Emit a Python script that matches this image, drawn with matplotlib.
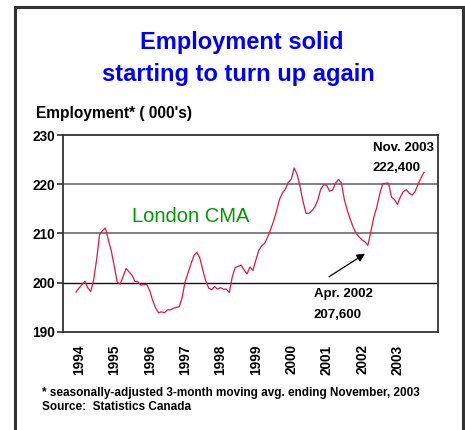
import matplotlib
matplotlib.use('Agg')
import matplotlib.pyplot as plt
from matplotlib.patches import Rectangle

plt.rcParams['font.family'] = ['Liberation Sans', 'DejaVu Sans']

# London CMA employment (000's), monthly Jan 1994 - Nov 2003
employment = [
    198.1, 198.9, 199.6, 200.3, 199.0, 198.2, 200.6, 204.7, 209.8, 210.6, 211.1, 208.6,  # 1994
    206.4, 203.3, 200.1, 199.7, 201.3, 202.9, 202.2, 201.5, 200.3, 200.2, 199.5, 199.6,  # 1995
    199.7, 198.4, 196.4, 194.9, 193.9, 194.1, 193.9, 194.5, 194.5, 194.8, 195.0, 195.1,  # 1996
    197.0, 200.2, 202.0, 203.8, 205.5, 206.2, 205.0, 202.6, 200.4, 198.9, 198.6, 199.2,  # 1997
    198.7, 199.0, 198.7, 198.7, 198.0, 201.2, 203.1, 203.3, 203.6, 202.6, 201.8, 203.2,  # 1998
    202.5, 204.6, 206.6, 207.5, 208.0, 209.3, 210.8, 212.5, 214.5, 216.9, 218.2, 219.0,  # 1999
    220.4, 221.0, 223.3, 222.0, 219.5, 216.5, 214.1, 214.1, 214.6, 215.4, 216.8, 219.0,  # 2000
    219.9, 219.8, 218.6, 218.8, 220.2, 221.0, 220.3, 216.9, 214.7, 212.9, 211.3, 210.0,  # 2001
    209.3, 208.7, 208.3, 207.6, 210.4, 213.3, 215.3, 218.0, 220.1, 220.2, 220.2, 217.4,  # 2002
    216.9, 215.9, 217.4, 218.5, 218.9, 218.2, 217.8, 218.5, 220.0, 221.3, 222.4,         # 2003
]
years = ['1994', '1995', '1996', '1997', '1998', '1999', '2000', '2001', '2002', '2003']
y_ticks = [190, 200, 210, 220, 230]

months = list(range(len(employment)))

fig = plt.figure(figsize=(4.65, 4.3), dpi=100)
ax = fig.add_axes([0.1355, 0.228, 0.806, 0.458])

# horizontal reference lines
ax.axhline(200, color='#111111', lw=1.0, zorder=1)
for v in (210, 220):
    ax.axhline(v, color='#808080', lw=1.4, zorder=1)

ax.plot(months, employment, color='#e3163f', lw=0.9, zorder=3)

ax.set_xlim(-4.4, 122.7)
ax.set_ylim(190, 230)
ax.set_yticks(y_ticks)
ax.set_yticklabels([str(v) for v in y_ticks], fontsize=9.8, fontweight='bold')
ax.set_xticks([12 * i + 1 for i in range(len(years))])
ax.set_xticklabels(years, rotation=90, fontsize=9.8, fontweight='bold')
ax.tick_params(axis='x', length=0, pad=9)
ax.tick_params(axis='y', length=4, width=1.2, color='#333333', pad=2)
for s in ax.spines.values():
    s.set_color('#333333')
    s.set_linewidth(1.3)

ax.text(39, 213.5, 'London CMA', color='#009900', fontsize=14.5,
        ha='center', va='center')
ax.text(100.7, 227.3, 'Nov. 2003', fontsize=9.5, fontweight='bold', va='center')
ax.text(100.7, 223.3, '222,400', fontsize=9.5, fontweight='bold', va='center')
ax.text(80.7, 197.8, 'Apr. 2002', fontsize=9.5, fontweight='bold', va='center')
ax.text(80.7, 193.5, '207,600', fontsize=9.5, fontweight='bold', va='center')
ax.annotate('', xy=(98, 205.9), xytext=(85.8, 201.2),
            arrowprops=dict(arrowstyle='-|>', color='black', lw=0.9,
                            mutation_scale=12, shrinkA=0, shrinkB=0))

# titles and notes
fig.text(0.52, 0.902, 'Employment solid', color='#0000ff', fontsize=17,
         fontweight='bold', ha='center', va='center')
fig.text(0.512, 0.826, 'starting to turn up again', color='#0000ff', fontsize=17,
         fontweight='bold', ha='center', va='center')
fig.text(0.077, 0.737, "Employment* ( 000's)", fontsize=11.2, fontweight='bold',
         va='center')
fig.text(0.090, 0.086, '* seasonally-adjusted 3-month moving avg. ending November, 2003',
         fontsize=8.5, fontweight='bold', va='center')
fig.text(0.090, 0.053, 'Source:  Statistics Canada', fontsize=8.5, fontweight='bold',
         va='center')

# outer frame
fig.patches.append(Rectangle((0.033, -0.05), 0.962, 1.034, transform=fig.transFigure,
                             fill=False, edgecolor='#333333', lw=2.2))

fig.savefig('out.png', dpi=100)
